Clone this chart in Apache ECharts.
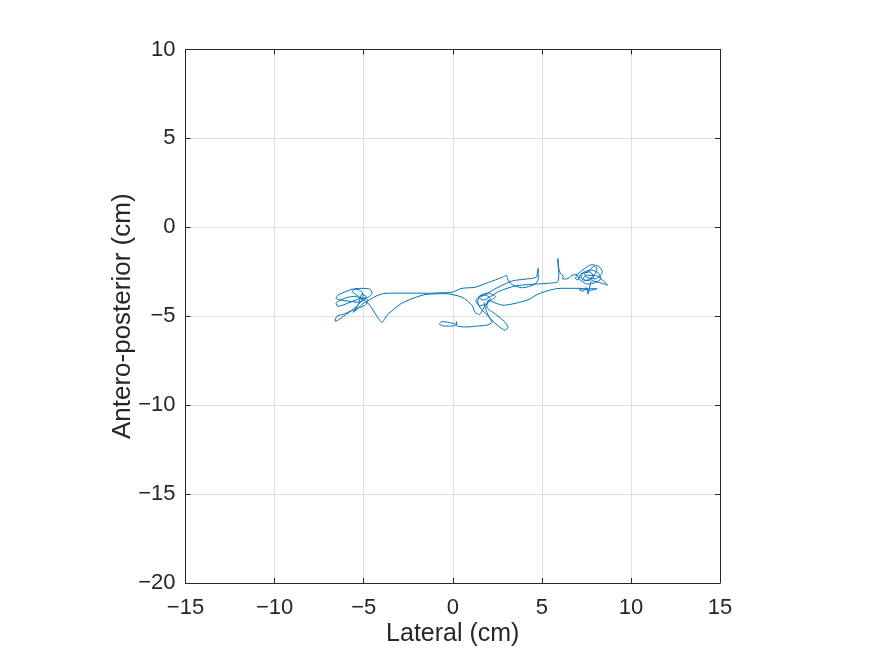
<!DOCTYPE html>
<html><head><meta charset="utf-8">
<script src="https://cdn.jsdelivr.net/npm/echarts@6/dist/echarts.min.js"></script>
<style>html,body{margin:0;padding:0;background:#fff}#c{width:875px;height:656px}</style>
</head><body><div id="c"></div>
<script>
// Axis ticks
const xTicks = [-15, -10, -5, 0, 5, 10, 15];
const yTicks = [-20, -15, -10, -5, 0, 5, 10];
const xName = 'Lateral (cm)';
const yName = 'Antero-posterior (cm)';

// Trajectory (cm), in drawing order
const startLoop = [[0.15,-5.45],[-0.2,-5.35],[-0.6,-5.3],[-0.75,-5.45],[-0.5,-5.55],[0.0,-5.55],[0.2,-5.45],[0.2,-5.3],[0.25,-5.55],[0.8,-5.6],[1.4,-5.55],[1.9,-5.5],[2.2,-5.35]];
const middleA = [[2.0,-5.0],[1.6,-4.6],[1.4,-4.2],[1.5,-3.9],[1.8,-3.8],[2.1,-4.0],[1.9,-4.3],[1.5,-4.4],[1.3,-4.1],[1.6,-3.8],[2.0,-3.7],[2.4,-3.9],[2.0,-4.2],[1.7,-4.6],[1.5,-4.9],[1.25,-4.78]];
const lowerLeft = [[1.08,-4.38],[0.52,-3.93],[-0.43,-3.73],[-1.56,-3.78],[-2.51,-4.10],[-2.96,-4.33],[-3.24,-4.55],[-3.69,-4.94],[-3.97,-5.34]];
const leftCluster = [[-4.19,-5.11],[-4.47,-4.66],[-4.75,-4.27],[-5.09,-4.04],[-5.48,-3.88],[-5.87,-3.93],[-6.32,-4.10],[-6.55,-4.27],[-6.44,-4.44],[-6.05,-4.33],[-5.48,-4.10],[-5.09,-3.99],[-4.75,-4.10],[-4.92,-4.38],[-5.34,-4.55],[-5.76,-4.72],[-6.15,-4.89],[-6.50,-5.00],[-6.61,-5.28],[-6.44,-5.22],[-6.05,-4.94],[-5.65,-4.66],[-5.34,-4.38],[-5.09,-4.10],[-5.03,-3.82],[-5.20,-3.54],[-5.43,-3.48],[-5.65,-3.60],[-5.37,-3.82],[-5.09,-3.99],[-4.75,-3.93],[-4.53,-3.71],[-4.64,-3.48],[-5.09,-3.43],[-5.65,-3.48],[-6.10,-3.65],[-6.44,-3.82],[-6.55,-3.99],[-6.21,-4.10],[-5.76,-4.16],[-5.34,-4.21],[-4.98,-4.10],[-4.87,-3.88],[-5.09,-3.76],[-5.20,-3.99],[-5.26,-4.27],[-5.43,-4.55],[-5.59,-4.78],[-5.37,-4.61],[-5.09,-4.33],[-4.81,-4.16],[-4.53,-3.99],[-4.19,-3.82],[-3.80,-3.71]];
const topLine = [[-2.96,-3.70],[-2.0,-3.70],[-1.39,-3.71],[-0.6,-3.68],[-0.04,-3.65],[0.52,-3.43],[1.25,-3.37]];
const middleB = [[2.0,-3.1],[2.8,-2.8],[3.0,-2.7],[3.1,-2.95],[3.3,-3.2],[3.9,-3.4],[4.6,-3.2],[4.8,-2.9],[4.8,-2.3],[4.75,-2.5],[4.7,-2.8],[4.2,-2.9],[3.4,-3.0],[2.9,-3.2],[2.3,-3.5],[1.8,-3.8],[1.5,-3.95],[1.7,-4.1],[2.1,-3.9],[2.6,-3.6],[3.5,-3.3],[4.5,-3.2],[5.3,-3.15],[5.9,-3.05],[5.95,-2.6],[5.9,-1.75],[5.92,-2.2],[6.05,-2.6],[6.2,-2.75],[6.15,-2.9],[6.4,-2.9],[6.7,-2.7],[6.95,-2.65],[6.9,-2.9],[7.05,-2.95]];
const rightCluster = [[7.2,-2.6],[7.6,-2.5],[7.9,-2.2],[8.1,-2.3],[8.0,-2.6],[7.7,-2.9],[7.4,-3.0],[7.2,-2.8],[7.4,-2.5],[7.8,-2.4],[8.2,-2.6],[8.3,-2.9],[8.0,-3.1],[7.6,-3.2],[7.2,-3.0],[7.0,-2.7],[7.3,-2.4],[7.8,-2.1],[8.2,-2.2],[8.4,-2.5],[8.0,-2.9],[7.5,-2.8],[7.4,-2.6],[7.7,-2.5],[7.9,-2.8],[7.6,-3.0],[7.3,-2.9],[7.5,-2.7],[8.0,-2.7],[8.7,-3.25],[8.2,-3.1],[7.8,-3.0],[7.7,-3.3],[7.6,-3.75],[7.5,-3.4],[7.3,-3.6],[7.1,-3.5],[7.6,-3.45],[8.1,-3.45]];
const returnPath = [[7.7,-3.54],[7.14,-3.43],[6.02,-3.43],[4.89,-3.71],[4.16,-4.10],[2.82,-4.38],[1.98,-4.10],[1.92,-4.49],[2.26,-4.78],[2.82,-5.22],[3.10,-5.62],[2.93,-5.79],[2.65,-5.62],[2.09,-5.11],[1.87,-4.66],[1.75,-4.21]];

const path = [].concat(startLoop, middleA, lowerLeft, leftCluster, topLine, middleB, rightCluster, returnPath);

const axisColor = '#262626';
const font = 'Liberation Sans';
const fmt = v => (v < 0 ? '\u2212' + Math.abs(v) : String(v));

const chart = echarts.init(document.getElementById('c'), null, {renderer: 'canvas'});
chart.setOption({
  animation: false,
  backgroundColor: '#ffffff',
  grid: {left: 185.5, top: 49.5, right: 155, bottom: 73, containLabel: false},
  xAxis: [{
    type: 'value', min: xTicks[0], max: xTicks[xTicks.length-1], interval: 5, position: 'bottom',
    name: xName, nameLocation: 'middle', nameGap: 39, nameMoveOverlap: false,
    nameTextStyle: {fontFamily: font, fontSize: 25, color: axisColor},
    axisLine: {show: true, onZero: false, lineStyle: {color: axisColor, width: 1}},
    axisTick: {show: true, inside: true, length: 5, lineStyle: {color: axisColor}},
    axisLabel: {formatter: fmt, fontFamily: font, fontSize: 22, color: axisColor, margin: 14},
    splitLine: {show: true, lineStyle: {color: '#dfdfdf', width: 1}}
  }, {
    type: 'value', min: xTicks[0], max: xTicks[xTicks.length-1], interval: 5, position: 'top',
    axisLine: {show: true, onZero: false, lineStyle: {color: axisColor, width: 1}},
    axisTick: {show: true, inside: true, length: 5, lineStyle: {color: axisColor}},
    axisLabel: {show: false}, splitLine: {show: false}
  }],
  yAxis: [{
    type: 'value', min: yTicks[0], max: yTicks[yTicks.length-1], interval: 5, position: 'left',
    name: yName, nameLocation: 'middle', nameGap: 50, nameMoveOverlap: false,
    nameTextStyle: {fontFamily: font, fontSize: 26, color: axisColor},
    axisLine: {show: true, onZero: false, lineStyle: {color: axisColor, width: 1}},
    axisTick: {show: true, inside: true, length: 5, lineStyle: {color: axisColor}},
    axisLabel: {formatter: fmt, fontFamily: font, fontSize: 22, color: axisColor, margin: 10},
    splitLine: {show: true, lineStyle: {color: '#dfdfdf', width: 1}}
  }, {
    type: 'value', min: yTicks[0], max: yTicks[yTicks.length-1], interval: 5, position: 'right',
    axisLine: {show: true, onZero: false, lineStyle: {color: axisColor, width: 1}},
    axisTick: {show: true, inside: true, length: 5, lineStyle: {color: axisColor}},
    axisLabel: {show: false}, splitLine: {show: false}
  }],
  series: [{
    type: 'line', xAxisIndex: 0, yAxisIndex: 0, data: path,
    showSymbol: false, symbol: 'none', smooth: 0.25,
    lineStyle: {color: '#0072BD', width: 1}
  }]
});
</script></body></html>
